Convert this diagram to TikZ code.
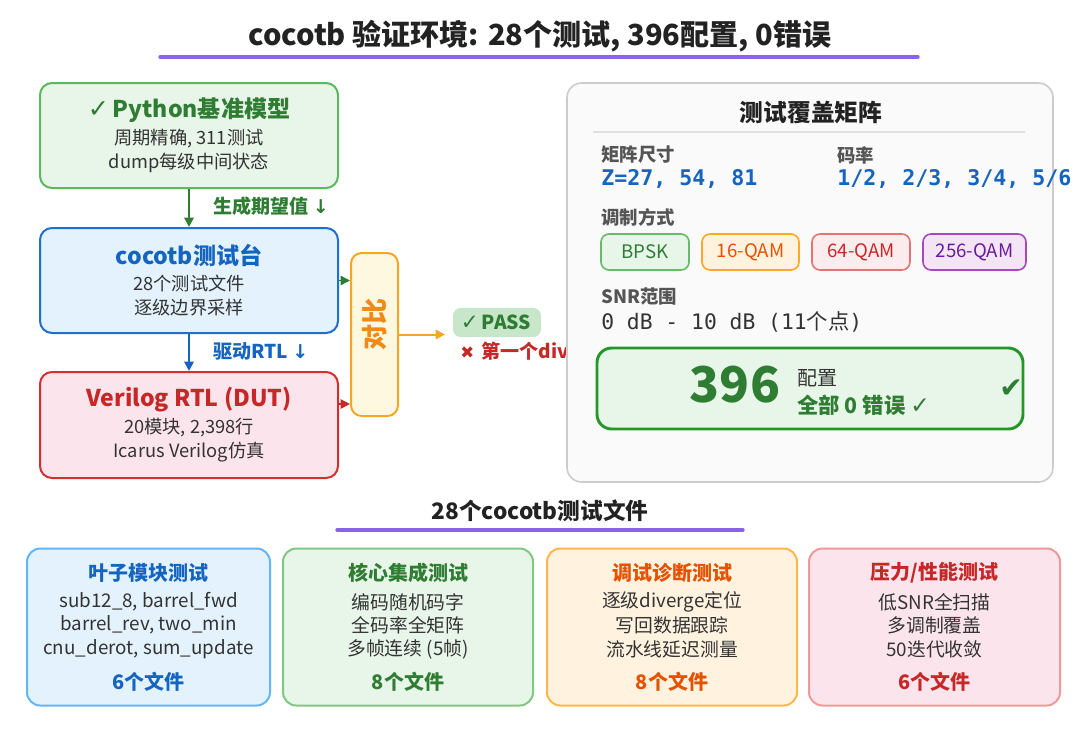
\documentclass[tikz,border=0pt]{standalone}
\usepackage{fontspec}
\setmainfont{Noto Sans CJK SC}
\newfontfamily\dvf{DejaVu Sans}
\newfontfamily\monof{DejaVu Sans Mono}
\usetikzlibrary{arrows.meta,calc}
\definecolor{gBorder}{HTML}{5CB85C}
\definecolor{gFill}{HTML}{E8F5E9}
\definecolor{gText}{HTML}{2E7D32}
\definecolor{bBorder}{HTML}{1E6FD0}
\definecolor{bFill}{HTML}{E3F2FD}
\definecolor{bText}{HTML}{1565C0}
\definecolor{rBorder}{HTML}{D32F2F}
\definecolor{rFill}{HTML}{FCE4EC}
\definecolor{rText}{HTML}{C62828}
\definecolor{oBorder}{HTML}{F5A623}
\definecolor{oFill}{HTML}{FFF8E1}
\definecolor{oText}{HTML}{EF8A17}
\definecolor{oDeep}{HTML}{E65100}
\definecolor{oChip}{HTML}{FFF3E0}
\definecolor{purp}{HTML}{8A63E8}
\definecolor{panelB}{HTML}{CCCCCC}
\definecolor{panelF}{HTML}{FAFAFA}
\definecolor{grayT}{HTML}{555555}
\definecolor{darkT}{HTML}{333333}
\definecolor{titleT}{HTML}{222222}
\definecolor{cBlueB}{HTML}{64B5F6}
\definecolor{cGreenB}{HTML}{81C784}
\definecolor{cOrangeB}{HTML}{FFB74D}
\definecolor{cRedB}{HTML}{EF9A9A}
\definecolor{chipG}{HTML}{66BB6A}
\definecolor{chipO}{HTML}{FFA726}
\definecolor{chipR}{HTML}{E57373}
\definecolor{chipRF}{HTML}{FDECEE}
\definecolor{chipP}{HTML}{AB47BC}
\definecolor{chipPF}{HTML}{F3E5F5}
\definecolor{chipPT}{HTML}{6A1B9A}
\definecolor{passF}{HTML}{C8E6C9}
\definecolor{sepL}{HTML}{E0E0E0}
\newcommand{\fs}[1]{\fontsize{#1pt}{#1pt}\selectfont}
\tikzset{
  mainbox/.style={draw, line width=1.5pt, rounded corners=9pt, inner sep=0pt},
  card/.style={draw, line width=1.5pt, rounded corners=10pt, inner sep=0pt},
  chip/.style={draw, line width=1.2pt, rounded corners=6pt, inner sep=0pt, minimum height=27pt, font=\fs{14}},
  btitle/.style={font=\fs{17.3}\bfseries, inner sep=0pt},
  bline/.style={font=\fs{13.7}, text=darkT, inner sep=0pt},
  ctitle/.style={font=\fs{15}\bfseries, inner sep=0pt},
  cline/.style={font=\fs{14.1}, text=darkT, inner sep=0pt},
  plabel/.style={font=\fs{13.8}\bfseries, text=grayT, inner sep=0pt, anchor=west},
  conn/.style={line width=1.5pt, -{Triangle[length=7pt,width=7pt]}},
}
\begin{document}
\begin{tikzpicture}[x=0.75pt, y=-0.75pt]
\useasboundingbox (0,0) rectangle (1080,729);
% title
\node[font=\fs{21.8}\bfseries, text=titleT, inner sep=0pt] (title) at (540,36) {cocotb 验证环境: 28个测试, 396配置, 0错误};
\draw[purp, line width=2.5pt, line cap=round] (160,57) -- (918,57);

% left boxes
\node[mainbox, draw=gBorder, fill=gFill, minimum width=223.5pt, minimum height=78.75pt] (py) at (189,135.5) {};
\node[btitle, text=gText] (pyt) at (189,110) {{\dvf\fs{19}✓}\,Python基准模型};
\node[bline] (pyl1) at (189,139) {周期精确, 311测试};
\node[bline] (pyl2) at (189,163) {dump每级中间状态};

\node[mainbox, draw=bBorder, fill=bFill, minimum width=223.5pt, minimum height=78.75pt] (tb) at (189,280.5) {};
\node[btitle, text=bText] (tbt) at (189,255) {cocotb测试台};
\node[bline] (tbl1) at (189,283) {28个测试文件};
\node[bline] (tbl2) at (189,308) {逐级边界采样};

\node[mainbox, draw=rBorder, fill=rFill, minimum width=223.5pt, minimum height=79.5pt] (dut) at (189,425) {};
\node[btitle, text=rText] (dutt) at (189,400) {Verilog RTL (DUT)};
\node[bline] (dutl1) at (189,428) {20模块, 2,398行};
\node[bline] (dutl2) at (189,452) {Icarus Verilog仿真};

% vertical arrows
\draw[conn, gText] (py.south) -- (tb.north);
\node[font=\fs{14.3}\bfseries, text=gText, anchor=west, inner sep=0pt] (lab1) at (213,206) {生成期望值 {\dvf ↓}};
\draw[conn, bText] (tb.south) -- (dut.north);
\node[font=\fs{14.3}\bfseries, text=bText, anchor=west, inner sep=0pt] (lab2) at (213,351) {驱动RTL {\dvf ↓}};

% compare box
\node[draw=oBorder, fill=oFill, line width=1.5pt, rounded corners=8pt, minimum width=35.25pt, minimum height=122.25pt, inner sep=0pt] (cmp) at (374.5,334.5) {};
\node[font=\fs{19.5}\bfseries, text=oText, rotate=90, inner sep=0pt] (cmpt) at (374.5,324) {对比};
\coordinate (tbout) at (tb.east);
\draw[gText, line width=1pt, -{Triangle[length=7pt,width=7pt]}] (tbout) -- (tbout -| cmp.west);
\coordinate (dutout) at (338,404);
\draw[rText, line width=1pt, -{Triangle[length=7pt,width=7pt]}] (dutout) -- (dutout -| cmp.west);

% pass / fail
\node[fill=passF, rounded corners=6pt, minimum width=66pt, minimum height=22pt, inner sep=0pt] (pass) at (497,322.5) {};
\node[font=\fs{14.5}\bfseries, text=gText, inner sep=0pt] (passt) at (496,322.5) {{\dvf\fs{16}✓}\,PASS};
\coordinate (passin) at (445,334.5);
\draw[oBorder, line width=1.5pt, -{Triangle[length=7pt,width=7pt]}] (cmp.east) -- (passin);
\node[font=\fs{14.3}\bfseries, text=rText, anchor=west, inner sep=0pt] (fail) at (460,353) {{\dvf\fs{12.5}✖}\, 第一个diverge};

% right panel
\node[draw=panelB, fill=panelF, line width=1.2pt, rounded corners=11pt, minimum width=364.5pt, minimum height=299.25pt, inner sep=0pt] (panel) at (810,282.5) {};
\node[font=\fs{17.8}\bfseries, text=titleT, inner sep=0pt] (pant) at (811,112) {测试覆盖矩阵};
\draw[sepL, line width=0.8pt] (593,132) -- (1025,132);

\node[plabel] (l1) at (601,155) {矩阵尺寸};
\node[font=\fs{16.2}\monof\bfseries, text=bText, anchor=west, inner sep=0pt] (v1) at (601,179) {Z=27, 54, 81};
\node[plabel] (l2) at (837,155) {码率};
\node[font=\fs{16.2}\monof\bfseries, text=bText, anchor=west, inner sep=0pt] (v2) at (837,179) {1/2, 2/3, 3/4, 5/6};

\node[plabel] (l3) at (601,217) {调制方式};
\node[chip, draw=chipG, fill=gFill, text=gText, minimum width=66pt] (c1) at (645,252) {BPSK};
\node[chip, draw=chipO, fill=oChip, text=oDeep, minimum width=72.75pt] (c2) at (750.5,252) {16-QAM};
\node[chip, draw=chipR, fill=chipRF, text=rText, minimum width=73.5pt] (c3) at (861,252) {64-QAM};
\node[chip, draw=chipP, fill=chipPF, text=chipPT, minimum width=77.25pt] (c4) at (974.5,252) {256-QAM};

\node[plabel] (l4) at (601,296) {SNR范围};
\node[font=\fs{16}, text=darkT, anchor=west, inner sep=0pt] (v4) at (601,322) {\monof 0 dB - 10 dB (11\rmfamily 个点\monof )};

\node[draw=gText!80!green, fill=gFill, line width=2.2pt, rounded corners=11pt, minimum width=319.5pt, minimum height=60.75pt, inner sep=0pt] (big) at (810,388.5) {};
\node[font=\fs{37}\bfseries, text=gText, inner sep=0pt] (num) at (735,385) {396};
\node[font=\fs{15}, text=darkT, anchor=west, inner sep=0pt] (cfg) at (797,378) {配置};
\node[font=\fs{16}\bfseries, text=gText, anchor=west, inner sep=0pt] (zero) at (797,405) {全部 0 错误 {\dvf\mdseries\fs{17.5}✓}};
\node[font=\fs{21}\dvf, text=gText, inner sep=0pt] (chk) at (1011,389) {✔};

% bottom
\node[font=\fs{17}\bfseries, text=titleT, inner sep=0pt] (btitle) at (540,511) {28个cocotb测试文件};
\draw[purp, line width=2.5pt, line cap=round] (337,530) -- (743,530);

\node[card, draw=cBlueB, fill=bFill, minimum width=182.25pt, minimum height=117.75pt] (k1) at (148.5,627) {};
\node[ctitle, text=bText] (k1t) at (148.5,573) {叶子模块测试};
\node[cline] (k1a) at (148.5,602) {sub12\_8, barrel\_fwd};
\node[cline] (k1b) at (148.5,625) {barrel\_rev, two\_min};
\node[cline] (k1c) at (148.5,649) {cnu\_derot, sum\_update};
\node[ctitle, text=bText] (k1f) at (148.5,682) {6个文件};

\node[card, draw=cGreenB, fill=gFill, minimum width=187.5pt, minimum height=117.75pt] (k2) at (408,627) {};
\node[ctitle, text=gText] (k2t) at (408,573) {核心集成测试};
\node[cline] (k2a) at (408,602) {编码随机码字};
\node[cline] (k2b) at (408,625) {全码率全矩阵};
\node[cline] (k2c) at (408,649) {多帧连续 (5帧)};
\node[ctitle, text=gText] (k2f) at (408,682) {8个文件};

\node[card, draw=cOrangeB, fill=oChip, minimum width=187.5pt, minimum height=117.75pt] (k3) at (672,627) {};
\node[ctitle, text=oDeep] (k3t) at (672,573) {调试诊断测试};
\node[cline] (k3a) at (672,602) {逐级diverge定位};
\node[cline] (k3b) at (672,625) {写回数据跟踪};
\node[cline] (k3c) at (672,649) {流水线延迟测量};
\node[ctitle, text=oDeep] (k3f) at (672,682) {8个文件};

\node[card, draw=cRedB, fill=rFill, minimum width=188.25pt, minimum height=117.75pt] (k4) at (934.5,627) {};
\node[ctitle, text=rText] (k4t) at (934.5,573) {压力/性能测试};
\node[cline] (k4a) at (934.5,602) {低SNR全扫描};
\node[cline] (k4b) at (934.5,625) {多调制覆盖};
\node[cline] (k4c) at (934.5,649) {50迭代收敛};
\node[ctitle, text=rText] (k4f) at (934.5,682) {6个文件};
\end{tikzpicture}
\end{document}
